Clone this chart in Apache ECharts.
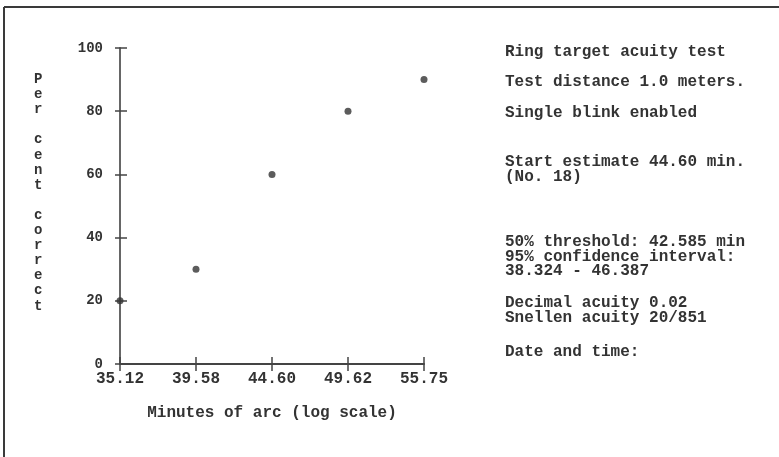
<!DOCTYPE html>
<html>
<head>
<meta charset="utf-8">
<script src="https://cdn.jsdelivr.net/npm/echarts@6/dist/echarts.min.js"></script>
<style>
html,body{margin:0;padding:0;background:#fff;}
#chart{width:779px;height:457px;}
</style>
</head>
<body>
<div id="chart"></div>
<script>
// Data
var xCategories = ['35.12', '39.58', '44.60', '49.62', '55.75'];
var percentCorrect = [20, 30, 60, 80, 90];
var yTicks = { min: 0, max: 100, interval: 20 };
var xAxisTitle = 'Minutes of arc (log scale)';
var yAxisTitle = 'Per cent correct';
var infoBlocks = [
  ['Ring target acuity test'],
  ['Test distance 1.0 meters.'],
  ['Single blink enabled'],
  ['Start estimate 44.60 min.', '(No. 18)'],
  ['50% threshold: 42.585 min', '95% confidence interval:', '38.324 - 46.387'],
  ['Decimal acuity 0.02', 'Snellen acuity 20/851'],
  ['Date and time:']
];

var FONT = '"Liberation Mono", "DejaVu Sans Mono", monospace';
var INK = '#333';
var blockTops = [52, 82, 113, 162, 242, 303, 352];
var LINE = 14.6;

var graphics = [];
// frame (top & left edges)
graphics.push({type:'line', shape:{x1:4, y1:7, x2:779, y2:7}, style:{stroke:'#3a3a3a', lineWidth:2}});
graphics.push({type:'line', shape:{x1:4, y1:7, x2:4, y2:457}, style:{stroke:'#3a3a3a', lineWidth:2}});
// vertical y-axis title
graphics.push({
  type:'text', left:34, top:72,
  style:{text: yAxisTitle.split('').join('\n'), font:'bold 14px ' + FONT, fill:INK, lineHeight:15.1, textAlign:'center'}
});
infoBlocks.forEach(function(block, bi){
  block.forEach(function(line, li){
    graphics.push({
      type:'text', x:505, y:blockTops[bi] + li*LINE,
      style:{text:line, font:'bold 16px ' + FONT, fill:INK, textVerticalAlign:'middle', textAlign:'left'}
    });
  });
});

var chart = echarts.init(document.getElementById('chart'));
chart.setOption({
  animation:false,
  backgroundColor:'#fff',
  grid:{left:120, top:48, width:304, height:316},
  xAxis:[{
    type:'category', data:xCategories, boundaryGap:false,
    axisLine:{show:true, lineStyle:{color:'#444', width:2}},
    axisTick:{show:true, length:7, lineStyle:{color:'#444', width:1.5}},
    axisLabel:{color:INK, fontFamily:FONT, fontWeight:'bold', fontSize:16, margin:7},
    splitLine:{show:false},
    name:xAxisTitle, nameLocation:'middle', nameGap:41,
    nameTextStyle:{color:INK, fontFamily:FONT, fontWeight:'bold', fontSize:16}
  },{
    type:'category', data:xCategories, boundaryGap:false, position:'bottom',
    axisLine:{show:false},
    axisTick:{show:true, inside:true, length:7, lineStyle:{color:'#444', width:1.5}},
    axisLabel:{show:false}, splitLine:{show:false}
  }],
  yAxis:[{
    type:'value', min:yTicks.min, max:yTicks.max, interval:yTicks.interval,
    axisLine:{show:true, lineStyle:{color:'#666', width:2}},
    axisTick:{show:true, length:5, lineStyle:{color:'#444', width:1.5}},
    axisLabel:{color:INK, fontFamily:FONT, fontWeight:'bold', fontSize:14, margin:17},
    splitLine:{show:false}
  },{
    type:'value', min:yTicks.min, max:yTicks.max, interval:yTicks.interval, position:'left',
    axisLine:{show:false},
    axisTick:{show:true, inside:true, length:7, lineStyle:{color:'#444', width:1.5}},
    axisLabel:{show:false}, splitLine:{show:false}
  }],
  series:[{
    type:'scatter', xAxisIndex:0, yAxisIndex:0,
    data:percentCorrect,
    symbol:'circle', symbolSize:7,
    itemStyle:{color:'#333'}
  }],
  graphic:graphics
});
</script>
</body>
</html>
